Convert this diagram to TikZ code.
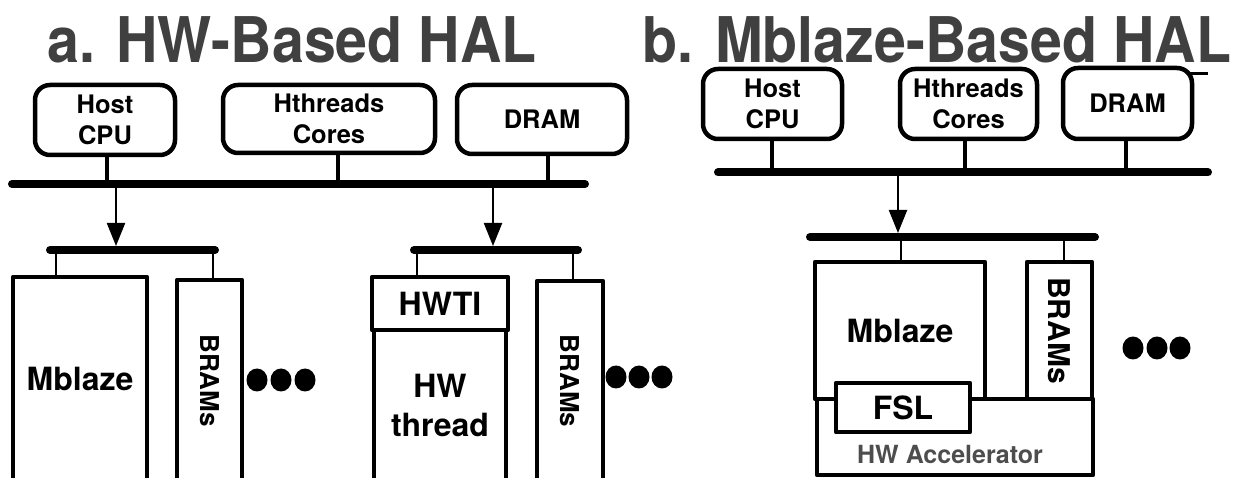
\documentclass[tikz,border=0pt]{standalone}
\usepackage{fontspec}
\usepackage{graphicx}
\setmainfont{TeX Gyre Heros}
\usetikzlibrary{arrows.meta,positioning}
\definecolor{titlegray}{HTML}{404040}
\definecolor{accgray}{HTML}{4D4D4D}
\tikzset{
  unit/.style={draw, line width=4.5pt, rounded corners=15pt, inner sep=0pt, align=center,
    font=\bfseries\fontsize{25.5}{31}\selectfont},
  blk/.style={draw, fill=white, line width=4.5pt, inner sep=0pt, align=center,
    font=\bfseries\fontsize{32}{39}\selectfont},
  bram/.style={blk, font=\bfseries\fontsize{26}{26}\selectfont},
  bus/.style={line width=8pt, line cap=round},
  stub/.style={line width=4.5pt},
  tap/.style={line width=2pt},
  link/.style={line width=2.2pt, shorten >=4pt, -{Triangle[width=18pt,length=23pt]}},
  heading/.style={inner sep=0pt, anchor=base, text=titlegray,
    font=\bfseries\fontsize{63}{63}\selectfont},
}
\begin{document}
\begin{tikzpicture}[x=1pt,y=-1pt,line join=round]
	\useasboundingbox (0,0) rectangle (1243,478);
	\clip (0,0) rectangle (1243,478);
	% titles
	\node[heading] (ttlA) at (292,63) {\scalebox{0.91}[1]{a. HW-Based HAL}};
	\node[heading] (ttlB) at (937,63) {\scalebox{0.91}[1]{b. Mblaze-Based HAL}};
	
	% a. HW-Based HAL
	\node[unit, minimum width=140pt, minimum height=70pt] (hostA) at (105,120) {Host\\CPU};
	\node[unit, minimum width=212pt, minimum height=68pt] (coreA) at (329,119) {Hthreads\\Cores};
	\node[unit, minimum width=170pt, minimum height=69pt] (dramA) at (542,119.5) {DRAM};
	\coordinate (busA-w) at (12,184);
	\coordinate (busA-e) at (585,184);
	\foreach \n/\x in {hostA/107, coreA/338, dramA/548}
	{
		\coordinate (s-\n) at (\x,184);
		\draw[stub] (s-\n |- \n.south) -- (s-\n);
	}
	\draw[bus] (busA-w) -- (busA-e);
	
	\coordinate (dropA1) at (116,184);
	\coordinate (dropA2) at (493,184);
	\coordinate (lbA1-w) at (50,250);
	\coordinate (lbA1-e) at (215,250);
	\coordinate (lbA2-w) at (414,250);
	\coordinate (lbA2-e) at (578,250);
	\draw[link] (dropA1) -- (dropA1 |- lbA1-w);
	\draw[link] (dropA2) -- (dropA2 |- lbA2-w);
	
	\node[blk, minimum width=134pt, minimum height=204pt] (mbzA) at (80,379) {Mblaze};
	\node[bram, minimum width=65pt, minimum height=201pt] (bramA1) at (209.5,380.5) {\rotatebox{-90}{BRAMs}};
	\node[blk, minimum width=136pt, minimum height=53pt] (hwti) at (440,303.5) {HWTI};
	\node[blk, minimum width=132pt, minimum height=151pt] (hwthr) at (440,405.5) {HW\\thread};
	\node[bram, minimum width=66pt, minimum height=200pt] (bramA2) at (570,381) {\rotatebox{-90}{BRAMs}};
	\foreach \n/\x in {mbzA/56, bramA1/213, hwti/417, bramA2/573}
	{
		\coordinate (t-\n) at (\x,250);
		\draw[tap] (t-\n) -- (t-\n |- \n.north);
	}
	\draw[bus] (lbA1-w) -- (lbA1-e);
	\draw[bus] (lbA2-w) -- (lbA2-e);
	\foreach \x in {257,281,305}
	{
		\fill (\x,380) ellipse (10.5 and 11.5);
	}
	\foreach \x in {616,639,662}
	{
		\fill (\x,377) ellipse (10.5 and 11.5);
	}
	
	% b. Mblaze-Based HAL
	\node[unit, minimum width=139pt, minimum height=70pt] (hostB) at (772.5,104) {Host\\CPU};
	\node[unit, minimum width=137pt, minimum height=70pt] (coreB) at (968.5,104) {Hthreads\\Cores};
	\node[unit, minimum width=129pt, minimum height=71pt] (dramB) at (1127.5,103.5) {DRAM};
	\draw[line width=3pt] (1187,74) -- (1208,74);
	\draw[line width=1pt] (1189,75) -- (1192,84);
	\coordinate (busB-w) at (718,172.5);
	\coordinate (busB-e) at (1208,172.5);
	\foreach \n/\x in {hostB/772, coreB/965, dramB/1126}
	{
		\coordinate (s-\n) at (\x,172.5);
		\draw[stub] (s-\n |- \n.south) -- (s-\n);
	}
	\draw[bus] (busB-w) -- (busB-e);
	
	\coordinate (dropB) at (898,172.5);
	\coordinate (lbB-w) at (810,237);
	\coordinate (lbB-e) at (1095,237);
	\draw[link] (dropB) -- (dropB |- lbB-w);
	
	\node[blk, minimum width=170pt, minimum height=137pt] (mbzB) at (900,330.5) {Mblaze};
	\node[bram, font=\bfseries\fontsize{30}{30}\selectfont, minimum width=65pt, minimum height=137pt] (bramB) at (1059.5,330.5) {\rotatebox{-90}{BRAMs}};
	\node[blk, minimum width=276pt, minimum height=76pt] (accl) at (955,437) {};
	\node[inner sep=0pt, text=accgray, font=\bfseries\fontsize{25}{25}\selectfont, above=13pt of accl.south, xshift=-5pt] (accl-lbl) {HW Accelerator};
	\node[blk, minimum width=134pt, minimum height=49pt] (fsl) at (903,407.5) {FSL};
	\foreach \n/\x in {mbzB/901, bramB/1064}
	{
		\coordinate (t-\n) at (\x,237);
		\draw[tap] (t-\n) -- (t-\n |- \n.north);
	}
	\draw[bus] (lbB-w) -- (lbB-e);
	\foreach \x in {1133,1157,1180}
	{
		\fill (\x,348) ellipse (10.5 and 11.5);
	}
\end{tikzpicture}
\end{document}
